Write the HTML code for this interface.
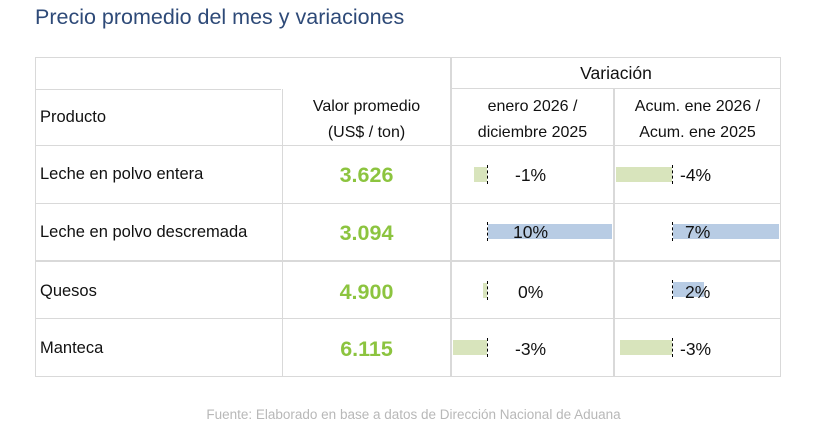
<!DOCTYPE html>
<html><head><meta charset="utf-8"><style>
body{margin:0;width:827px;height:432px;background:#fff;position:relative;overflow:hidden;font-family:"Liberation Sans",sans-serif;}
.a{position:absolute;}
.h{background:#d9d9d9;height:1px;}
.v{background:#d9d9d9;width:2px;}
.t{font-size:16.5px;color:#111;white-space:nowrap;}
.n{font-size:21.5px;font-weight:bold;color:#8cc43f;width:169px;text-align:center;}
.g{background:#d8e4bc;height:15px;}
.b{background:#b8cce4;height:15px;}
.d{border-left:1px dashed #000;width:0;height:19px;}
</style></head><body>
<div class="a" style="left:35px;top:5px;font-size:21.5px;color:#2e4a78;">Precio promedio del mes y variaciones</div>
<div class="a h" style="left:35px;top:57px;width:746px"></div>
<div class="a h" style="left:35px;top:89px;width:246px"></div>
<div class="a h" style="left:35px;top:145px;width:746px"></div>
<div class="a h" style="left:35px;top:203px;width:746px"></div>
<div class="a h" style="left:35px;top:260px;width:746px;height:2px"></div>
<div class="a h" style="left:35px;top:318px;width:746px"></div>
<div class="a h" style="left:35px;top:376px;width:746px"></div>
<div class="a h" style="left:451px;top:88px;width:330px"></div>
<div class="a v" style="left:35px;top:57px;height:320px;width:1px"></div>
<div class="a v" style="left:282px;top:89px;height:287px;width:1px"></div>
<div class="a v" style="left:450px;top:57px;height:320px"></div>
<div class="a v" style="left:613px;top:89px;height:287px"></div>
<div class="a v" style="left:780px;top:57px;height:320px;width:1px"></div>
<div class="a t" style="left:451px;width:330px;top:63px;text-align:center;font-size:17.5px">Variación</div>
<div class="a t" style="left:40px;top:108px;">Producto</div>
<div class="a t" style="left:282px;width:169px;top:94px;text-align:center;line-height:26px;font-size:16px">Valor promedio<br>(US$ / ton)</div>
<div class="a t" style="left:451px;width:163px;top:94px;text-align:center;line-height:26px;font-size:16px">enero 2026 /<br>diciembre 2025</div>
<div class="a t" style="left:614px;width:167px;top:94px;text-align:center;line-height:26px;font-size:16px">Acum. ene 2026 /<br>Acum. ene 2025</div>

<div class="a t" style="left:40px;top:165px">Leche en polvo entera</div>
<div class="a t" style="left:40px;top:223px">Leche en polvo descremada</div>
<div class="a t" style="left:40px;top:282px">Quesos</div>
<div class="a t" style="left:40px;top:339px">Manteca</div>
<div class="a n" style="left:282px;top:163px">3.626</div>
<div class="a n" style="left:282px;top:221px">3.094</div>
<div class="a n" style="left:282px;top:280px">4.900</div>
<div class="a n" style="left:282px;top:337px">6.115</div>

<div class="a g" style="left:474px;top:167px;width:13px"></div>
<div class="a b" style="left:488px;top:224px;width:124px"></div>
<div class="a g" style="left:483px;top:283px;width:4px"></div>
<div class="a g" style="left:453px;top:340px;width:34px"></div>
<div class="a d" style="left:487px;top:165px"></div>
<div class="a d" style="left:487px;top:222px"></div>
<div class="a d" style="left:487px;top:281px"></div>
<div class="a d" style="left:487px;top:338px"></div>
<div class="a t" style="left:515px;top:165px;font-size:17.5px">-1%</div>
<div class="a t" style="left:513px;top:222px;font-size:17.5px">10%</div>
<div class="a t" style="left:518px;top:282px;font-size:17.5px">0%</div>
<div class="a t" style="left:515px;top:339px;font-size:17.5px">-3%</div>

<div class="a g" style="left:616px;top:167px;width:56px"></div>
<div class="a b" style="left:673px;top:224px;width:106px"></div>
<div class="a b" style="left:673px;top:282px;width:31px"></div>
<div class="a g" style="left:620px;top:340px;width:52px"></div>
<div class="a d" style="left:672px;top:165px"></div>
<div class="a d" style="left:672px;top:222px"></div>
<div class="a d" style="left:672px;top:280px"></div>
<div class="a d" style="left:672px;top:338px"></div>
<div class="a t" style="left:680px;top:165px;font-size:17.5px">-4%</div>
<div class="a t" style="left:685px;top:222px;font-size:17.5px">7%</div>
<div class="a t" style="left:685px;top:282px;font-size:17.5px">2%</div>
<div class="a t" style="left:680px;top:339px;font-size:17.5px">-3%</div>

<div class="a" style="left:0;width:827px;top:407px;text-align:center;font-size:13.5px;color:#b8b8b8">Fuente: Elaborado en base a datos de Dirección Nacional de Aduana</div>
</body></html>
